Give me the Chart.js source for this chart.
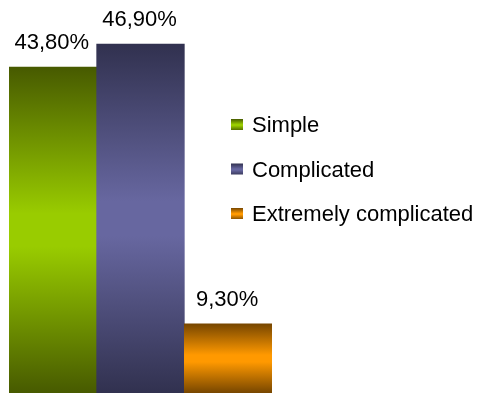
<!DOCTYPE html>
<html>
<head>
<meta charset="utf-8">
<script src="https://cdn.jsdelivr.net/npm/chart.js@4"></script>
<style>
  html, body { margin: 0; padding: 0; background: #fff; }
  #wrap { width: 478px; height: 393px; }
</style>
</head>
<body>
<div id="wrap"><canvas id="chart" width="478" height="393"></canvas></div>
<script>
const categories = ['Simple', 'Complicated', 'Extremely complicated'];
const shares = [43.8, 46.9, 9.3];
const valueLabels = ['43,80%', '46,90%', '9,30%'];
// dark edge / light middle of each bar gradient
const edgeColors = ['#475a00', '#31314f', '#774600'];
const midColors = ['#99cc00', '#6767a0', '#ff9900'];

const FONT = '22px "Liberation Sans", Arial, sans-serif';

function makeGradient(ctx, i, top, bottom) {
    const g = ctx.createLinearGradient(0, top, 0, bottom);
    g.addColorStop(0, edgeColors[i]);
    g.addColorStop(0.45, midColors[i]);
    g.addColorStop(0.55, midColors[i]);
    g.addColorStop(1, edgeColors[i]);
    return g;
}

const labelsPlugin = {
    id: 'valueLabels',
    afterDatasetsDraw(chart) {
        const ctx = chart.ctx;
        const meta = chart.getDatasetMeta(0);
        ctx.save();
        ctx.font = FONT;
        ctx.fillStyle = '#000';
        ctx.textAlign = 'center';
        ctx.textBaseline = 'alphabetic';
        meta.data.forEach((bar, i) => {
            ctx.fillText(valueLabels[i], bar.x - 1, bar.y - 18);
        });
        ctx.restore();
    }
};

const legendPlugin = {
    id: 'sideLegend',
    afterDraw(chart) {
        const ctx = chart.ctx;
        const x = 231, y0 = 125, step = 44.5, box = 12;
        ctx.save();
        ctx.font = FONT;
        ctx.textBaseline = 'middle';
        categories.forEach((name, i) => {
            const cy = y0 + i * step;
            ctx.fillStyle = makeGradient(ctx, i, cy - box / 2, cy + box / 2);
            ctx.fillRect(x, cy - box / 2, box, box - 1);
            ctx.fillStyle = '#000';
            ctx.fillText(name, x + 21, cy + 1);
        });
        ctx.restore();
    }
};

new Chart(document.getElementById('chart'), {
    type: 'bar',
    data: {
        labels: categories,
        datasets: [{
            data: shares,
            borderWidth: 0,
            categoryPercentage: 1,
            barPercentage: 1,
            backgroundColor: (c) => {
                const chart = c.chart;
                const y = chart.scales.y;
                if (!chart.chartArea || !y) return midColors[c.dataIndex];
                const top = y.getPixelForValue(shares[c.dataIndex]);
                const bottom = y.getPixelForValue(0);
                return makeGradient(chart.ctx, c.dataIndex, top, bottom);
            }
        }]
    },
    options: {
        responsive: false,
        animation: false,
        layout: { padding: { left: 9, right: 206, top: 21, bottom: 0 } },
        plugins: { legend: { display: false }, tooltip: { enabled: false } },
        scales: {
            x: { display: false },
            y: { display: false, min: 0, max: 50 }
        }
    },
    plugins: [labelsPlugin, legendPlugin]
});
</script>
</body>
</html>
